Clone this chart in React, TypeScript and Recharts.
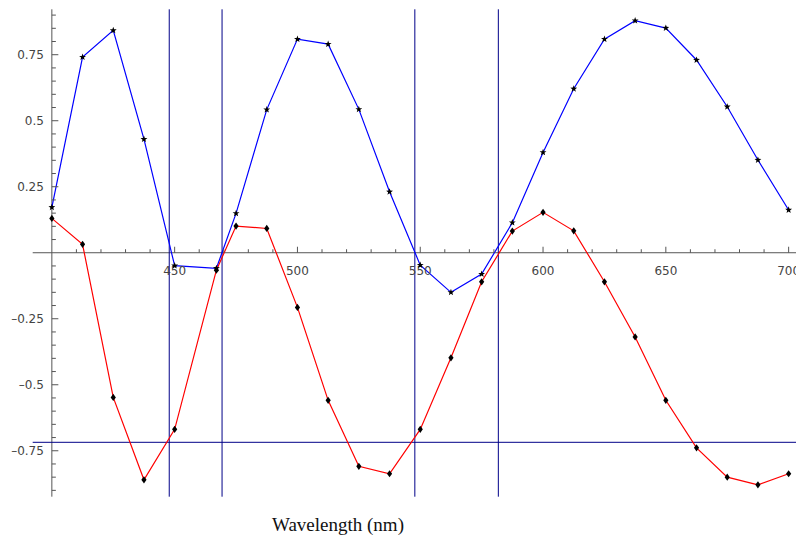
import { LineChart, Line, XAxis, YAxis, ReferenceLine, ReferenceDot } from "recharts";

// wavelength samples (nm)
const wavelengths = [400, 412.5, 425, 437.5, 450, 467, 475, 487.5, 500, 512.5, 525, 537.5, 550, 562.5, 575, 587.5, 600, 612.5, 625, 637.5, 650, 662.5, 675, 687.5, 700];
const blueSeries = [0.172, 0.741, 0.842, 0.43, -0.049, -0.059, 0.149, 0.542, 0.809, 0.79, 0.543, 0.231, -0.047, -0.15, -0.081, 0.114, 0.38, 0.621, 0.809, 0.879, 0.851, 0.73, 0.553, 0.351, 0.162];
const redSeries = [0.13, 0.032, -0.548, -0.86, -0.669, -0.066, 0.101, 0.092, -0.207, -0.559, -0.809, -0.837, -0.669, -0.398, -0.11, 0.082, 0.153, 0.083, -0.11, -0.319, -0.559, -0.739, -0.85, -0.879, -0.837];

const markerLines = [447.8, 469.3, 547.8, 581.8];
const thresholdY = -0.718;

const xMajorTicks = [450, 500, 550, 600, 650, 700];
const xMinorTicks = [410, 420, 430, 440, 460, 470, 480, 490, 510, 520, 530, 540, 560, 570, 580, 590, 610, 620, 630, 640, 660, 670, 680, 690];
const yMajorTicks = [-0.75, -0.5, -0.25, 0.25, 0.5, 0.75];
const yMinorTicks = [-0.9, -0.85, -0.8, -0.7, -0.65, -0.6, -0.55, -0.45, -0.4, -0.35, -0.3, -0.2, -0.15, -0.1, -0.05, 0.05, 0.1, 0.15, 0.2, 0.3, 0.35, 0.4, 0.45, 0.55, 0.6, 0.65, 0.7, 0.8, 0.85, 0.9];

const chartData = wavelengths.map((wl, i) => ({ wl, blue: blueSeries[i], red: redSeries[i] }));

const AXIS = "#555";
const TICK_FONT = { fontFamily: "DejaVu Sans", fontSize: 12, fill: "#444" };

function fmt(v: number) {
  const s = Math.abs(v).toString();
  return v < 0 ? "\u2013" + s : s;
}

function Star({ cx, cy }: { cx: number; cy: number }) {
  const pts: string[] = [];
  for (let k = 0; k < 10; k++) {
    const r = k % 2 === 0 ? 3.6 : 1.5;
    const a = -Math.PI / 2 + (k * Math.PI) / 5;
    pts.push(`${cx + r * Math.cos(a)},${cy + r * Math.sin(a)}`);
  }
  return <polygon points={pts.join(" ")} fill="#000" />;
}

function Diamond({ cx, cy }: { cx: number; cy: number }) {
  return <polygon points={`${cx},${cy - 3.6} ${cx + 2.6},${cy} ${cx},${cy + 3.6} ${cx - 2.6},${cy}`} fill="#000" />;
}

export default function App() {
  return (
    <div style={{ position: "absolute", left: 0, top: 0, width: 796, height: 538, background: "#fff" }}>
      <LineChart width={796} height={538} data={chartData} margin={{ top: 9.3, right: 0, bottom: 41.3, left: 32.7 }}>
        <XAxis type="number" dataKey="wl" domain={[392.2, 703]} allowDataOverflow hide />
        <YAxis type="number" domain={[-0.924, 0.922]} allowDataOverflow hide />

        {/* axes crossing at (400, 0) */}
        <ReferenceLine y={0} stroke={AXIS} strokeWidth={1} />
        <ReferenceLine x={400} stroke={AXIS} strokeWidth={1} />

        {markerLines.map((x) => (
          <ReferenceLine key={`m${x}`} x={x} stroke="#000088" strokeWidth={1} />
        ))}
        <ReferenceLine y={thresholdY} stroke="#000088" strokeWidth={1} />

        {xMinorTicks.map((v) => (
          <ReferenceDot key={`xm${v}`} x={v} y={0} r={0} shape={(p: any) => (
            <line x1={p.cx} y1={p.cy} x2={p.cx} y2={p.cy - 3.5} stroke={AXIS} />
          )} />
        ))}
        {xMajorTicks.map((v) => (
          <ReferenceDot key={`xM${v}`} x={v} y={0} r={0} shape={(p: any) => (
            <g>
              <line x1={p.cx} y1={p.cy} x2={p.cx} y2={p.cy - 6} stroke={AXIS} />
              <text x={p.cx} y={p.cy + 22} textAnchor="middle" {...TICK_FONT}>{v}</text>
            </g>
          )} />
        ))}
        {yMinorTicks.map((v) => (
          <ReferenceDot key={`ym${v}`} x={400} y={v} r={0} shape={(p: any) => (
            <line x1={p.cx} y1={p.cy} x2={p.cx + 4} y2={p.cy} stroke={AXIS} />
          )} />
        ))}
        {yMajorTicks.map((v) => (
          <ReferenceDot key={`yM${v}`} x={400} y={v} r={0} shape={(p: any) => (
            <g>
              <line x1={p.cx} y1={p.cy} x2={p.cx + 6.5} y2={p.cy} stroke={AXIS} />
              <text x={p.cx - 8} y={p.cy + 4.3} textAnchor="end" {...TICK_FONT}>{fmt(v)}</text>
            </g>
          )} />
        ))}

        <Line type="linear" dataKey="blue" stroke="#0000ff" strokeWidth={1.2} isAnimationActive={false}
          dot={(p: any) => <Star key={`s${p.index}`} cx={p.cx} cy={p.cy} />} activeDot={false} />
        <Line type="linear" dataKey="red" stroke="#ff0000" strokeWidth={1.2} isAnimationActive={false}
          dot={(p: any) => <Diamond key={`d${p.index}`} cx={p.cx} cy={p.cy} />} activeDot={false} />
      </LineChart>
      <div style={{ position: "absolute", left: 238, top: 515, width: 200, textAlign: "center", fontFamily: "Liberation Serif", fontSize: 19, lineHeight: "19px", color: "#111" }}>
        Wavelength (nm)
      </div>
    </div>
  );
}
